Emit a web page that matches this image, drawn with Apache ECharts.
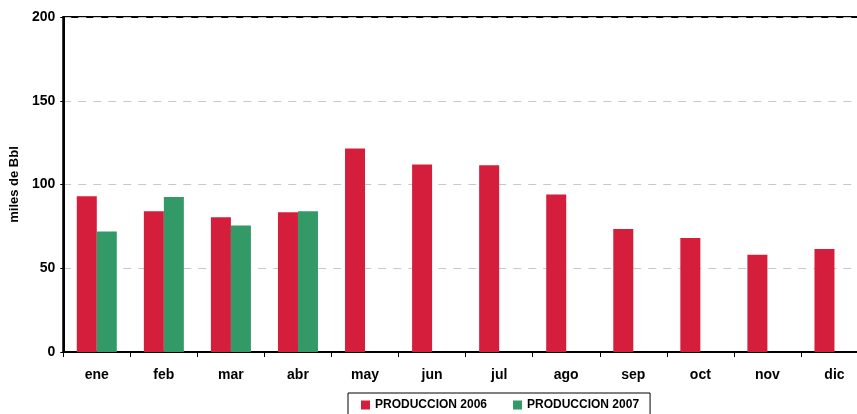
<!DOCTYPE html>
<html>
<head>
<meta charset="utf-8">
<style>
    html, body { margin: 0; padding: 0; background: #fff; overflow: hidden; }
    /* the plot runs past the right edge of the picture, so the canvas is wider than the window */
    #chart { width: 880px; height: 414px; }
</style>
<script src="https://cdn.jsdelivr.net/npm/echarts@6/dist/echarts.min.js"></script>
</head>
<body>
<div id="chart"></div>
<script type="text/javascript">
    var meses = ['ene', 'feb', 'mar', 'abr', 'may', 'jun', 'jul', 'ago', 'sep', 'oct', 'nov', 'dic'];
    var prod2006 = [93, 84, 80.5, 83.5, 121.5, 112, 111.5, 94, 73.5, 68, 58, 61.5];
    var prod2007 = [72, 92.5, 75.5, 84, null, null, null, null, null, null, null, null];
    var yTicks = [0, 50, 100, 150, 200];

    var font = 'Liberation Sans, Arial, sans-serif';
    var chart = echarts.init(document.getElementById('chart'));

    chart.setOption({
        animation: false,
        color: ['#d41e3b', '#339966'],
        grid: {
            left: 62, top: 17, width: 806, height: 335,
            show: true, borderColor: '#000', borderWidth: 2
        },
        legend: {
            data: ['PRODUCCION 2006', 'PRODUCCION 2007'],
            left: 348, top: 393,
            padding: [6, 11, 10, 13],
            borderColor: '#000', borderWidth: 1,
            itemWidth: 9, itemHeight: 9, itemGap: 26,
            icon: 'rect',
            textStyle: { fontFamily: font, fontWeight: 'bold', fontSize: 12, color: '#000' }
        },
        xAxis: {
            type: 'category',
            data: meses,
            axisLine: { lineStyle: { color: '#000', width: 2 } },
            axisTick: { show: true, length: 5, lineStyle: { color: '#000' } },
            axisLabel: { margin: 16, fontFamily: font, fontWeight: 'bold', fontSize: 14, color: '#000' }
        },
        yAxis: {
            type: 'value',
            min: yTicks[0], max: yTicks[yTicks.length - 1], interval: 50,
            name: 'miles de Bbl',
            nameLocation: 'middle',
            nameGap: 37,
            nameTextStyle: { fontFamily: font, fontWeight: 'bold', fontSize: 13, color: '#000' },
            axisLine: { show: true, lineStyle: { color: '#000', width: 2 } },
            axisTick: { show: true, length: 3, lineStyle: { color: '#000' } },
            axisLabel: { margin: 8, fontFamily: font, fontWeight: 'bold', fontSize: 14, color: '#000' },
            splitLine: { lineStyle: { color: '#c8c8c8', type: [8, 7], width: 1 } }
        },
        series: [
            { name: 'PRODUCCION 2006', type: 'bar', data: prod2006, barWidth: 20, barGap: '0%' },
            { name: 'PRODUCCION 2007', type: 'bar', data: prod2007, barWidth: 20 }
        ]
    });
</script>
</body>
</html>
